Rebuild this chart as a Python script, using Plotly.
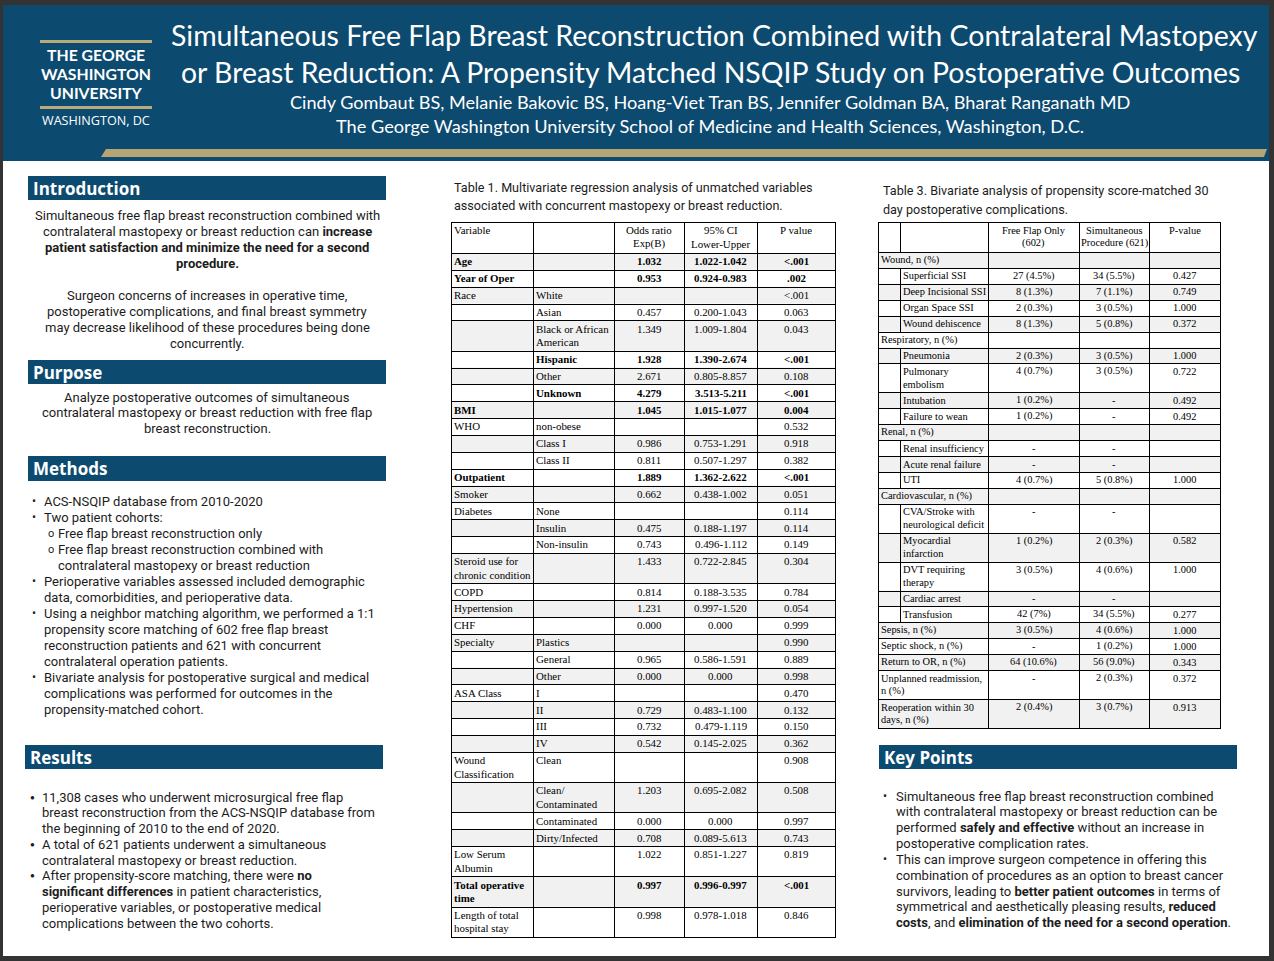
import plotly.graph_objects as go

W, H = 1274, 961

# ---------------- text content ----------------
title_lines = [
    "Simultaneous Free Flap Breast Reconstruction Combined with Contralateral Mastopexy",
    "or Breast Reduction: A Propensity Matched NSQIP Study on Postoperative Outcomes",
]
author_line = "Cindy Gombaut BS, Melanie Bakovic BS, Hoang-Viet Tran BS, Jennifer Goldman BA, Bharat Ranganath MD"
affiliation_line = "The George Washington University School of Medicine and Health Sciences, Washington, D.C."
logo_lines = ["THE GEORGE", "WASHINGTON", "UNIVERSITY"]
logo_sub = "WASHINGTON, DC"

section_titles = ["Introduction", "Purpose", "Methods", "Results", "Key Points"]

intro_lines = [
    "Simultaneous free flap breast reconstruction combined with",
    "contralateral mastopexy or breast reduction can <b>increase</b>",
    "<b>patient satisfaction and minimize the need for a second</b>",
    "<b>procedure.</b>",
    "",
    "Surgeon concerns of increases in operative time,",
    "postoperative complications, and final breast symmetry",
    "may decrease likelihood of these procedures being done",
    "concurrently.",
]
purpose_lines = [
    "Analyze postoperative outcomes of simultaneous",
    "contralateral mastopexy or breast reduction with free flap",
    "breast reconstruction.",
]
# (bullet level, text): 1 = bullet, 2 = sub-bullet, 0 = continuation, -2 = sub continuation
methods_lines = [
    (1, "ACS-NSQIP database from 2010-2020"),
    (1, "Two patient cohorts:"),
    (2, "Free flap breast reconstruction only"),
    (2, "Free flap breast reconstruction combined with"),
    (-2, "contralateral mastopexy or breast reduction"),
    (1, "Perioperative variables assessed included demographic"),
    (0, "data, comorbidities, and perioperative data."),
    (1, "Using a neighbor matching algorithm, we performed a 1:1"),
    (0, "propensity score matching of 602 free flap breast"),
    (0, "reconstruction patients and 621 with concurrent"),
    (0, "contralateral operation patients."),
    (1, "Bivariate analysis for postoperative surgical and medical"),
    (0, "complications was performed for outcomes in the"),
    (0, "propensity-matched cohort."),
]
results_lines = [
    (1, "11,308 cases who underwent microsurgical free flap"),
    (0, "breast reconstruction from the ACS-NSQIP database from"),
    (0, "the beginning of 2010 to the end of 2020."),
    (1, "A total of 621 patients underwent a simultaneous"),
    (0, "contralateral mastopexy or breast reduction."),
    (1, "After propensity-score matching, there were <b>no</b>"),
    (0, "<b>significant differences</b> in patient characteristics,"),
    (0, "perioperative variables, or postoperative medical"),
    (0, "complications between the two cohorts."),
]
keypoint_lines = [
    (1, "Simultaneous free flap breast reconstruction combined"),
    (0, "with contralateral mastopexy or breast reduction can be"),
    (0, "performed <b>safely and effective</b> without an increase in"),
    (0, "postoperative complication rates."),
    (1, "This can improve surgeon competence in offering this"),
    (0, "combination of procedures as an option to breast cancer"),
    (0, "survivors, leading to <b>better patient outcomes</b> in terms of"),
    (0, "symmetrical and aesthetically pleasing results, <b>reduced</b>"),
    (0, "<b>costs</b>, and <b>elimination of the need for a second operation</b>."),
]

# ---------------- Table 1 data ----------------
t1_caption = [
    "Table 1. Multivariate regression analysis of unmatched variables",
    "associated with concurrent mastopexy or breast reduction.",
]
t1_header = ["Variable", "", "Odds ratio<br>Exp(B)", "95% CI<br>Lower-Upper", "P value"]
t1_variable = ["Age", "Year of Oper", "Race", "", "", "", "", "", "BMI", "WHO", "", "",
               "Outpatient", "Smoker", "Diabetes", "", "", "Steroid use for<br>chronic condition",
               "COPD", "Hypertension", "CHF", "Specialty", "", "", "ASA Class", "", "", "",
               "Wound<br>Classification", "", "", "", "Low Serum<br>Albumin",
               "Total operative<br>time", "Length of total<br>hospital stay"]
t1_level = ["", "", "White", "Asian", "Black or African<br>American", "Hispanic", "Other", "Unknown",
            "", "non-obese", "Class I", "Class II", "", "", "None", "Insulin", "Non-insulin", "",
            "", "", "", "Plastics", "General", "Other", "I", "II", "III", "IV", "Clean",
            "Clean/<br>Contaminated", "Contaminated", "Dirty/Infected", "", "", ""]
t1_odds = ["1.032", "0.953", "", "0.457", "1.349", "1.928", "2.671", "4.279", "1.045", "",
           "0.986", "0.811", "1.889", "0.662", "", "0.475", "0.743", "1.433", "0.814", "1.231",
           "0.000", "", "0.965", "0.000", "", "0.729", "0.732", "0.542", "", "1.203", "0.000",
           "0.708", "1.022", "0.997", "0.998"]
t1_ci = ["1.022-1.042", "0.924-0.983", "", "0.200-1.043", "1.009-1.804", "1.390-2.674",
         "0.805-8.857", "3.513-5.211", "1.015-1.077", "", "0.753-1.291", "0.507-1.297",
         "1.362-2.622", "0.438-1.002", "", "0.188-1.197", "0.496-1.112", "0.722-2.845",
         "0.188-3.535", "0.997-1.520", "0.000", "", "0.586-1.591", "0.000", "", "0.483-1.100",
         "0.479-1.119", "0.145-2.025", "", "0.695-2.082", "0.000", "0.089-5.613", "0.851-1.227",
         "0.996-0.997", "0.978-1.018"]
t1_p = ["&lt;.001", ".002", "&lt;.001", "0.063", "0.043", "&lt;.001", "0.108", "&lt;.001", "0.004",
        "0.532", "0.918", "0.382", "&lt;.001", "0.051", "0.114", "0.114", "0.149", "0.304", "0.784",
        "0.054", "0.999", "0.990", "0.889", "0.998", "0.470", "0.132", "0.150", "0.362", "0.908",
        "0.508", "0.997", "0.743", "0.819", "&lt;.001", "0.846"]
t1_significant = ["Age", "Year of Oper", "Hispanic", "Unknown", "BMI", "Outpatient",
                  "Total operative<br>time"]
# banded (gray) rows of table 1, as in the source table
t1_banded = [1, 0, 1, 0, 1, 0, 1, 0, 1, 0, 1, 0, 0, 1, 0, 1, 0, 1, 0, 1, 0, 1, 0, 1, 0, 1, 0, 1,
             0, 1, 0, 1, 0, 1, 0]

# ---------------- Table 3 data ----------------
t3_caption = [
    "Table 3. Bivariate analysis of propensity score-matched 30",
    "day postoperative complications.",
]
t3_header = ["", "", "Free Flap Only<br>(602)", "Simultaneous<br>Procedure (621)", "P-value"]
t3_label = ["Wound, n (%)", "Superficial SSI", "Deep Incisional SSI", "Organ Space SSI",
            "Wound dehiscence", "Respiratory, n (%)", "Pneumonia", "Pulmonary<br>embolism",
            "Intubation", "Failure to wean", "Renal, n (%)", "Renal insufficiency",
            "Acute renal failure", "UTI", "Cardiovascular, n (%)",
            "CVA/Stroke with<br>neurological deficit", "Myocardial<br>infarction",
            "DVT requiring<br>therapy", "Cardiac arrest", "Transfusion", "Sepsis, n (%)",
            "Septic shock, n (%)", "Return to OR, n (%)", "Unplanned readmission,<br>n (%)",
            "Reoperation within 30<br>days, n (%)"]
t3_is_sub = [0, 1, 1, 1, 1, 0, 1, 1, 1, 1, 0, 1, 1, 1, 0, 1, 1, 1, 1, 1, 0, 0, 0, 0, 0]
t3_free = ["", "27 (4.5%)", "8 (1.3%)", "2 (0.3%)", "8 (1.3%)", "", "2 (0.3%)", "4 (0.7%)",
           "1 (0.2%)", "1 (0.2%)", "", "-", "-", "4 (0.7%)", "", "-", "1 (0.2%)", "3 (0.5%)",
           "-", "42 (7%)", "3 (0.5%)", "-", "64 (10.6%)", "-", "2 (0.4%)"]
t3_simul = ["", "34 (5.5%)", "7 (1.1%)", "3 (0.5%)", "5 (0.8%)", "", "3 (0.5%)", "3 (0.5%)",
            "-", "-", "", "-", "-", "5 (0.8%)", "", "-", "2 (0.3%)", "4 (0.6%)", "-",
            "34 (5.5%)", "4 (0.6%)", "1 (0.2%)", "56 (9.0%)", "2 (0.3%)", "3 (0.7%)"]
t3_p = ["", "0.427", "0.749", "1.000", "0.372", "", "1.000", "0.722", "0.492", "0.492", "",
        "", "", "1.000", "", "", "0.582", "1.000", "", "0.277", "1.000", "1.000", "0.343",
        "0.372", "0.913"]

# ---------------- styles ----------------
BLUE = "#0d4a6f"
GOLD = "#b6a475"
FRAME = "#333333"
INK = "#1c1c1c"
GRAY = "#f1f1f1"
BODY_FONT = "Roboto"
HEAD_FONT = "Open Sans"
TITLE_FONT = "Lato"
SERIF = "Liberation Serif"

shapes = []
annotations = []


def rect(x0, y0, x1, y1, fill, layer="below"):
    shapes.append(dict(type="rect", xref="x", yref="y", x0=x0, y0=y0, x1=x1, y1=y1,
                       fillcolor=fill, line=dict(width=0), layer=layer))


def path(d, color="#000000", width=1, fill=None):
    s = dict(type="path", xref="x", yref="y", path=d, line=dict(color=color, width=width),
             layer="below")
    if fill:
        s["fillcolor"] = fill
        s["line"] = dict(width=0)
    shapes.append(s)


def txt(x, y, s, size=13, family=BODY_FONT, color=INK, anchor="left"):
    annotations.append(dict(x=x, y=y, xref="x", yref="y", text=s, showarrow=False,
                            xanchor=anchor, yanchor="middle", borderpad=0,
                            font=dict(size=size, family=family, color=color)))


# ---------------- background / frame ----------------
rect(0, 0, W, H, FRAME)
rect(3, 5, 1269, 956, "#ffffff")
rect(3, 5, 1269, 161, BLUE)
path("M 101 157 L 106 149 L 1267 149 L 1264 157 Z", fill=GOLD)

# logo
rect(40, 40, 152, 43, "#b8a97d", layer="above")
rect(40, 106, 152, 109, "#b8a97d", layer="above")
for i, s in enumerate(logo_lines):
    txt(96, 54.3 + i * 19.2, "<b>" + s + "</b>", size=15.8, family="Lato", color="#ffffff",
        anchor="center")
txt(96, 120.5, logo_sub, size=12.6, family=HEAD_FONT, color="#ffffff", anchor="center")

# title block
txt(714, 35, title_lines[0], size=28.5, family=TITLE_FONT, color="#ffffff", anchor="center")
txt(710, 72, title_lines[1], size=28.4, family=TITLE_FONT, color="#ffffff", anchor="center")
txt(710, 102, author_line, size=18.1, family=TITLE_FONT, color="#ffffff", anchor="center")
txt(710, 126, affiliation_line, size=18.2, family=TITLE_FONT, color="#ffffff", anchor="center")

# ---------------- section bars ----------------
bars = [(28, 176, 386, 200), (28, 360, 386, 384), (28, 456, 386, 481), (25, 745, 383, 769),
        (879, 745, 1237, 769)]
for (x0, y0, x1, y1), name in zip(bars, section_titles):
    rect(x0, y0, x1, y1, BLUE)
    txt(x0 + 4, (y0 + y1) / 2, "<b>" + name + "</b>", size=17, family=HEAD_FONT,
        color="#ffffff")

# intro / purpose (centered)
y = 215
for s in intro_lines:
    if s:
        txt(207, y, s, anchor="center")
    y += 16
for i, s in enumerate(purpose_lines):
    txt(207, 397 + i * 15.6, s, anchor="center")


# bullet lists
def bullet_list(lines, y0, step, bx, tx, sbx, stx, bullet="•", bsize=13):
    for i, (lvl, s) in enumerate(lines):
        yy = y0 + i * step
        if lvl == 1:
            txt(bx, yy, bullet, size=bsize)
            txt(tx, yy, s)
        elif lvl == 2:
            txt(sbx, yy, "o", size=11)
            txt(stx, yy, s)
        elif lvl == -2:
            txt(stx, yy, s)
        else:
            txt(tx, yy, s)


bullet_list(methods_lines, 501, 16.0, 31, 43, 47, 57, bullet="•", bsize=12)
bullet_list(results_lines, 797, 15.75, 29, 41, 0, 0, bullet="●", bsize=8)
bullet_list(keypoint_lines, 796, 15.85, 882, 895, 0, 0, bullet="•", bsize=12)

# ---------------- Table 1 ----------------
txt(453, 187, t1_caption[0], size=12.6)
txt(453, 205, t1_caption[1], size=12.6)

T1_COLS = [451, 533, 614, 684, 757, 835]
T1_TOP, T1_HEAD = 222, 31
T1_SINGLE, T1_LINE = 16.86, 13.4
TFS = 10.9


def nlines(*cells):
    return max(c.count("<br>") + 1 for c in cells)


t1_heights = [T1_SINGLE + (nlines(a, b) - 1) * T1_LINE for a, b in zip(t1_variable, t1_level)]
t1_tops = []
yy = T1_TOP + T1_HEAD
for h in t1_heights:
    t1_tops.append(yy)
    yy += h
T1_BOTTOM = yy

for i, (top, h) in enumerate(zip(t1_tops, t1_heights)):
    if t1_banded[i]:
        rect(T1_COLS[0], top, T1_COLS[-1], top + h, GRAY)


def cell_text(x, top, s, anchor, size=TFS, bold=False, line=T1_LINE, off=8.3):
    for k, part in enumerate(s.split("<br>")):
        if part:
            t = "<b>" + part + "</b>" if bold else part
            txt(x, top + off + k * line, t, size=size, family=SERIF, color="#000000",
                anchor=anchor)


cell_text(T1_COLS[0] + 2, T1_TOP, t1_header[0], "left")
for c in range(2, 5):
    cell_text((T1_COLS[c] + T1_COLS[c + 1]) / 2, T1_TOP, t1_header[c], "center")

for i, top in enumerate(t1_tops):
    bold = t1_variable[i] in t1_significant or t1_level[i] in t1_significant
    cell_text(T1_COLS[0] + 2, top, t1_variable[i], "left", bold=bold)
    cell_text(T1_COLS[1] + 2, top, t1_level[i], "left", bold=bold)
    for c, vals in zip((2, 3, 4), (t1_odds, t1_ci, t1_p)):
        cell_text((T1_COLS[c] + T1_COLS[c + 1]) / 2, top, vals[i], "center", bold=bold)

grid = ""
for yline in [T1_TOP] + t1_tops + [T1_BOTTOM]:
    grid += "M %.1f %.1f H %.1f " % (T1_COLS[0], round(yline) + 0.5, T1_COLS[-1] + 1)
for xline in T1_COLS:
    grid += "M %.1f %.1f V %.1f " % (xline + 0.5, T1_TOP, round(T1_BOTTOM) + 1)
path(grid, color="#000000", width=1)

# ---------------- Table 3 ----------------
txt(882, 190, t3_caption[0], size=12.6)
txt(882, 209, t3_caption[1], size=12.6)

T3_COLS = [878, 900, 988, 1079, 1149, 1220]
T3_TOP, T3_HEAD = 222, 30
T3_SINGLE, T3_LINE = 15.92, 13.0
TFS3 = 10.4

t3_heights = [T3_SINGLE + (nlines(a) - 1) * T3_LINE for a in t3_label]
t3_tops = []
yy = T3_TOP + T3_HEAD
for h in t3_heights:
    t3_tops.append(yy)
    yy += h
T3_BOTTOM = yy

for i, (top, h) in enumerate(zip(t3_tops, t3_heights)):
    if i % 2 == 0:
        rect(T3_COLS[0], top, T3_COLS[-1], top + h, GRAY)

for c in range(2, 5):
    cell_text((T3_COLS[c] + T3_COLS[c + 1]) / 2, T3_TOP, t3_header[c], "center",
              size=TFS3, line=T3_LINE, off=8.0)

for i, top in enumerate(t3_tops):
    lx = T3_COLS[1] + 2 if t3_is_sub[i] else T3_COLS[0] + 2
    cell_text(lx, top, t3_label[i], "left", size=TFS3, line=T3_LINE, off=8.0)
    for c, vals in zip((2, 3, 4), (t3_free, t3_simul, t3_p)):
        cell_text((T3_COLS[c] + T3_COLS[c + 1]) / 2, top, vals[i], "center",
                  size=TFS3, line=T3_LINE, off=8.0)

grid = ""
for yline in [T3_TOP] + t3_tops + [T3_BOTTOM]:
    grid += "M %.1f %.1f H %.1f " % (T3_COLS[0], round(yline) + 0.5, T3_COLS[-1] + 1)
for k, xline in enumerate(T3_COLS):
    if k == 1:
        # indent column divider: header and sub-item rows only
        grid += "M %.1f %.1f V %.1f " % (xline + 0.5, T3_TOP, T3_TOP + T3_HEAD)
        for i, top in enumerate(t3_tops):
            if t3_is_sub[i]:
                grid += "M %.1f %.1f V %.1f " % (xline + 0.5, round(top),
                                                  round(top + t3_heights[i]) + 1)
    else:
        grid += "M %.1f %.1f V %.1f " % (xline + 0.5, T3_TOP, round(T3_BOTTOM) + 1)
path(grid, color="#000000", width=1)

# ---------------- figure ----------------
fig = go.Figure(go.Scatter(x=[], y=[], showlegend=False))
fig.update_layout(
    width=W, height=H,
    margin=dict(l=0, r=0, t=0, b=0),
    paper_bgcolor=FRAME, plot_bgcolor="#ffffff",
    xaxis=dict(range=[0, W], visible=False, fixedrange=True),
    yaxis=dict(range=[H, 0], visible=False, fixedrange=True),
    shapes=shapes, annotations=annotations, showlegend=False,
)
fig.write_html("out.html", config={"displayModeBar": False, "staticPlot": True},
               post_script="document.body.style.margin='0';document.body.style.overflow='hidden';")
